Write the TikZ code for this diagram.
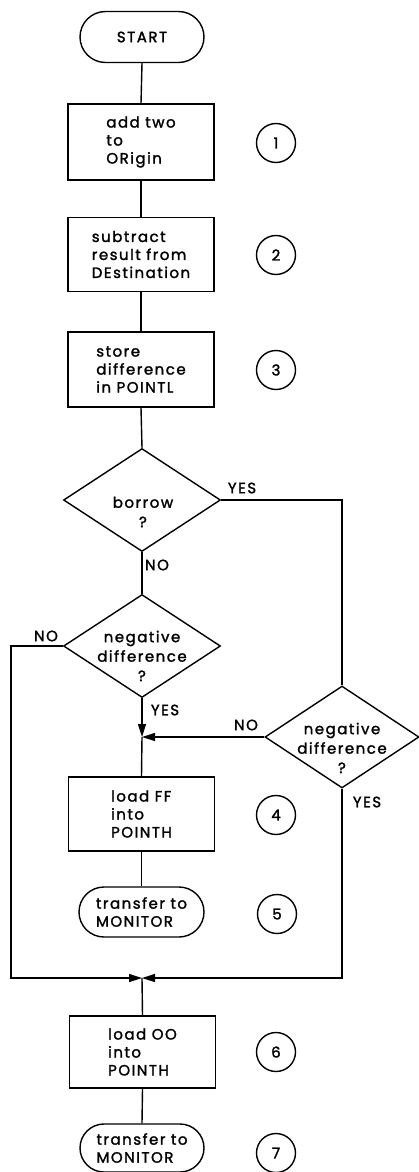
\documentclass[tikz,border=0pt]{standalone}
\usepackage{fontspec}
\setmainfont{Poppins}[LetterSpace=10, FakeBold=1.6]
\usetikzlibrary{shapes.geometric,arrows.meta,calc}
\newcommand{\fcfont}{\fontsize{15}{18}\selectfont}
\newcommand{\fdfont}{\fontsize{15}{19.5}\selectfont}
\tikzset{
  box/.style={draw, rectangle, minimum width=146pt, minimum height=74pt, align=left, inner sep=0pt, font=\fcfont},
  term/.style={draw, rectangle, rounded corners=24.5pt, minimum width=124pt, minimum height=49pt, align=left, inner sep=0pt, font=\fcfont},
  num/.style={draw, circle, minimum size=39pt, inner sep=0pt, font=\fcfont},
  dia/.style={draw, diamond, minimum width=157pt, minimum height=103pt, inner sep=0pt},
  diatext/.style={align=center, inner sep=0pt, font=\fdfont},
  lbl/.style={inner sep=0pt, font=\fcfont},
  arr/.style={-{Triangle[length=13pt,width=8pt]}}
}
\begin{document}
\begin{tikzpicture}[x=1pt, y=-1pt, line width=1.4pt, line join=miter]
\useasboundingbox[fill=white] (0,0) rectangle (419,1172);
% main column
\node[term, minimum height=51pt, rounded corners=25.5pt] (start) at (142,37) {START};
\node[box, minimum height=76pt] (b1) at (141,142) {add two\\to\\ORigin};
\node[box] (b2) at (141,254.5) {subtract\\result from\\DEstination};
\node[box, minimum height=75pt] (b3) at (141,369.5) {store\\difference\\in POINTL};
\node[dia] (d1) at (142,500) {};
\node[diatext] (d1t) at (143,512) {borrow\\?};
\node[dia] (d2) at (142,646) {};
\node[diatext] (d2t) at (142,656) {negative\\difference\\?};
\node[dia, minimum width=154pt, minimum height=102pt] (d3) at (342,737) {};
\node[diatext] (d3t) at (342,748) {negative\\difference\\?};
\node[box] (b4) at (141.5,814) {load FF\\into\\POINTH};
\node[term, minimum width=125pt, minimum height=50pt, rounded corners=25pt] (t5) at (141.5,912) {transfer to\\MONITOR};
\node[box, minimum height=72pt] (b6) at (142.5,1052) {load OO\\into\\POINTH};
\node[term, minimum height=48pt, rounded corners=24pt] (t7) at (142,1148) {transfer to\\MONITOR};
% step numbers
\node[num] (n1) at (276,143) {1};
\node[num] (n2) at (276,255) {2};
\node[num] (n3) at (276,370) {3};
\node[num] (n4) at (276,815) {4};
\node[num] (n5) at (277,914) {5};
\node[num] (n6) at (276,1052) {6};
\node[num] (n7) at (276,1153) {7};
% junctions
\coordinate (m1) at (142,737);
\coordinate (m2) at (142,978);
\coordinate (lc) at (11,978);
\coordinate (rc) at (342,978);
% connectors
\draw (start.south) -- (b1.north);
\draw (b1.south) -- (b2.north);
\draw (b2.south) -- (b3.north);
\draw (b3.south) -- (d1.north);
\draw (d1.south) -- (d2.north);
\draw (d1.east) -| (d3.north);
\draw[arr] (d2.west) -| (lc) -- (m2);
\draw[arr] (d2.south) -- (m1);
\draw[arr] (d3.west) -- (m1);
\draw[arr] (d3.south) -- (rc) -- (m2);
\draw (m1) -- (b4.north);
\draw (b4.south) -- (t5.north);
\draw (m2) -- (b6.north);
\draw (b6.south) -- (t7.north);
% branch labels
\node[lbl] (y1) at (242,488) {YES};
\node[lbl] (n1l) at (157,565) {NO};
\node[lbl] (n2l) at (46,636) {NO};
\node[lbl] (y2) at (165,710) {YES};
\node[lbl] (n3l) at (246,725) {NO};
\node[lbl] (y3) at (367,802) {YES};
\end{tikzpicture}
\end{document}
